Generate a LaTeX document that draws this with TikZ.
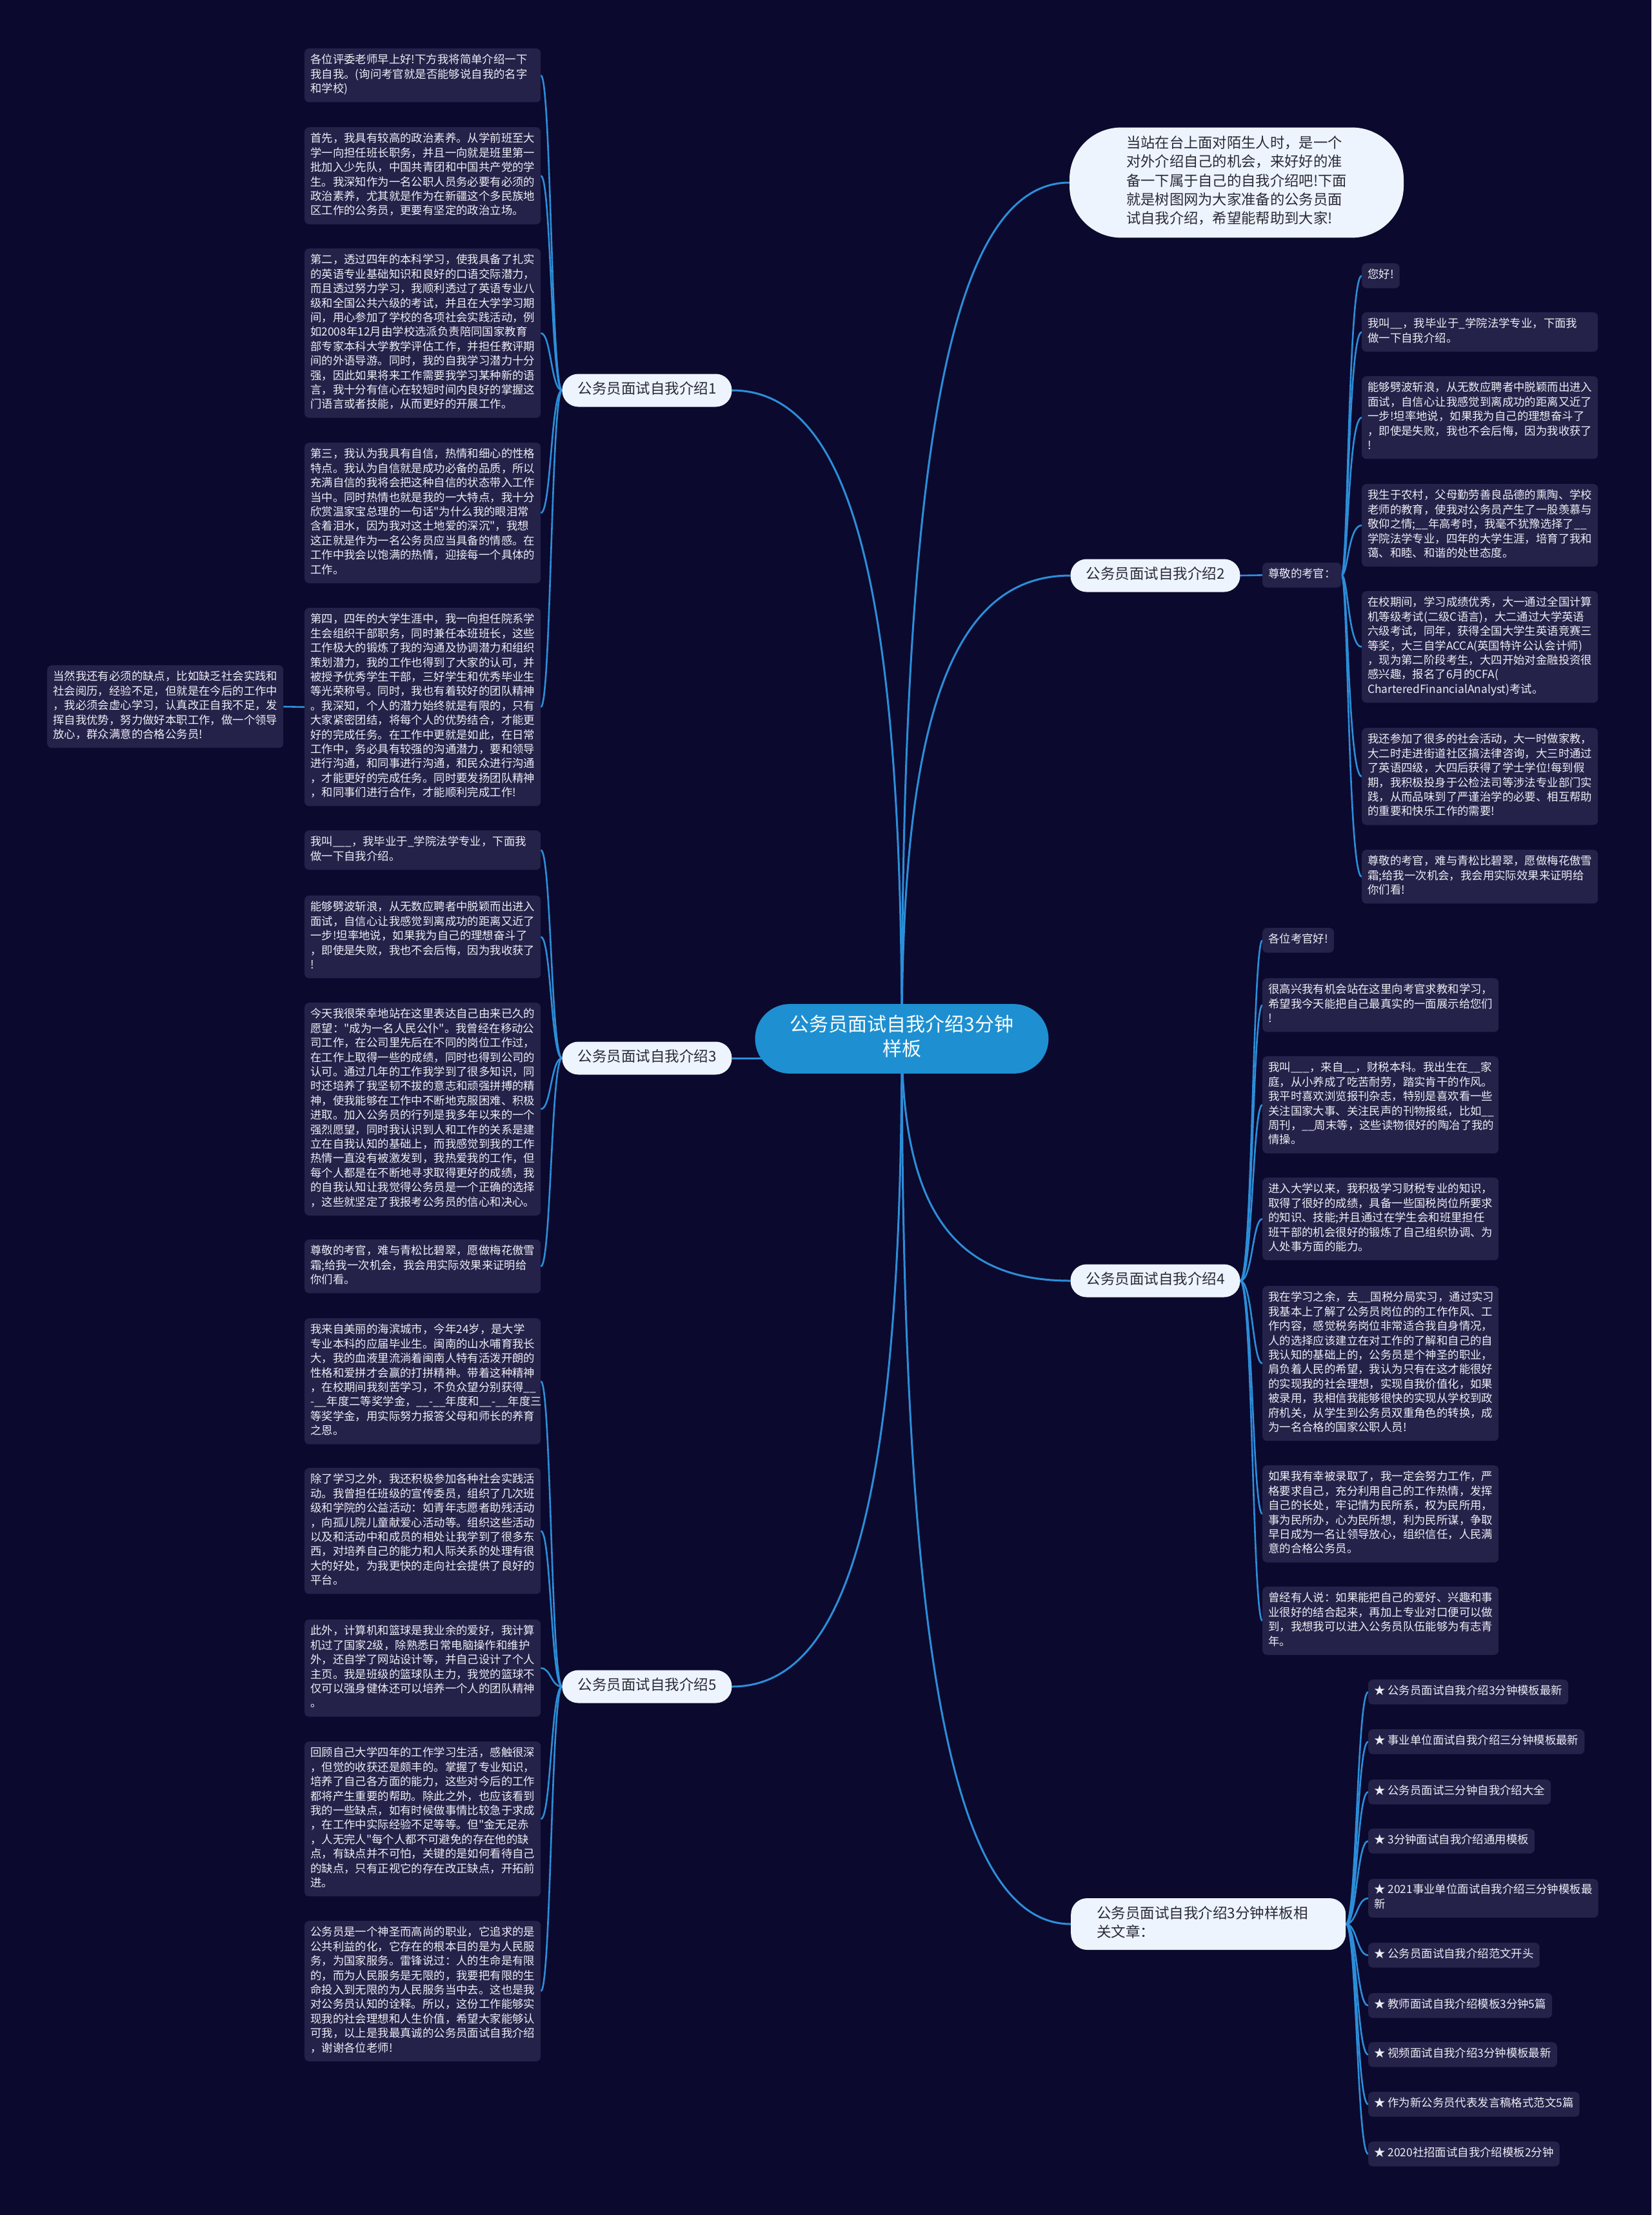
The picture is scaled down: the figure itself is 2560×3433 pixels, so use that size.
\documentclass[tikz,border=0pt]{standalone}
\usepackage{fontspec}
\newfontfamily\cjkf{Noto Sans CJK SC}[HyphenChar=None]
\usetikzlibrary{calc}
\definecolor{bgc}{HTML}{0B0A2E}
\definecolor{leafc}{HTML}{25224A}
\definecolor{leaft}{HTML}{EDEDF5}
\definecolor{linec}{HTML}{2C8ED8}
\definecolor{centc}{HTML}{1E8FD0}
\definecolor{pillc}{HTML}{EEF4FD}
\definecolor{pillt}{HTML}{2A2A35}
\pgfdeclarelayer{bg}
\pgfsetlayers{bg,main}
\exhyphenpenalty=10000
\tikzset{
 leaf/.style={fill=leafc, rounded corners=7pt, text=leaft, font=\cjkf\fontsize{17.4}{22.4}\selectfont, align=left, inner xsep=9pt, inner ysep=8pt, execute at begin node=\strut, execute at end node=\strut},
 wide/.style={leaf, text width=348pt},
 pill/.style={fill=pillc, text=pillt, rounded corners=25pt, font=\cjkf\fontsize{22.5}{29}\selectfont, inner xsep=24pt, inner ysep=11pt, align=left, execute at begin node=\strut, execute at end node=\strut},
 conn/.style={draw=linec, line width=2.6pt},
 trunk/.style={draw=linec, line width=3pt},
 sp/.style={to path={.. controls ($(\tikztostart)+(#1,0)$) and ($(\tikztostart |- \tikztotarget)+(#1,0)$) .. (\tikztotarget)}},
}
\begin{document}
\begin{tikzpicture}[x=1pt,y=-1pt]
\useasboundingbox (0,0) rectangle (2560,3433);

% ---------- center and branches ----------
\node[fill=centc, text=white, rounded corners=54pt, font=\cjkf\fontsize{30}{38}\selectfont, align=center, minimum width=455pt, inner ysep=16.5pt, execute at begin node=\strut, execute at end node=\strut] (c) at (1398,1610) {公务员面试自我介绍3分钟\\样板};

\node[fill=pillc, text=pillt, rounded corners=80pt, font=\cjkf\fontsize{22.3}{29.3}\selectfont, align=left, minimum width=518pt, inner ysep=13pt, execute at begin node=\strut, execute at end node=\strut] (intro) at (1917,283) {当站在台上面对陌生人时，是一个\\对外介绍自己的机会，来好好的准\\备一下属于自己的自我介绍吧!下面\\就是树图网为大家准备的公务员面\\试自我介绍，希望能帮助到大家!};

\node[pill] (b1) at (1003,605) {公务员面试自我介绍1};
\node[pill] (b2) at (1791,892) {公务员面试自我介绍2};
\node[pill] (b3) at (1003,1640) {公务员面试自我介绍3};
\node[pill] (b4) at (1791,1985) {公务员面试自我介绍4};
\node[pill] (b5) at (1003,2614) {公务员面试自我介绍5};
\node[pill, text width=346pt, inner xsep=40pt, anchor=west] (b6) at (1660,2982) {公务员面试自我介绍3分钟样板相\\关文章：};

% ---------- branch 1 ----------
\node[wide, anchor=north west] (l11) at (472,75) {各位评委老师早上好!下方我将简单介绍一下\\我自我。(询问考官就是否能够说自我的名字\\和学校)};
\node[wide, anchor=north west] (l12) at (472,197) {首先，我具有较高的政治素养。从学前班至大\\学一向担任班长职务，并且一向就是班里第一\\批加入少先队，中国共青团和中国共产党的学\\生。我深知作为一名公职人员务必要有必须的\\政治素养，尤其就是作为在新疆这个多民族地\\区工作的公务员，更要有坚定的政治立场。};
\node[wide, anchor=north west] (l13) at (472,385) {第二，透过四年的本科学习，使我具备了扎实\\的英语专业基础知识和良好的口语交际潜力，\\而且透过努力学习，我顺利透过了英语专业八\\级和全国公共六级的考试，并且在大学学习期\\间，用心参加了学校的各项社会实践活动，例\\如2008年12月由学校选派负责陪同国家教育\\部专家本科大学教学评估工作，并担任教评期\\间的外语导游。同时，我的自我学习潜力十分\\强，因此如果将来工作需要我学习某种新的语\\言，我十分有信心在较短时间内良好的掌握这\\门语言或者技能，从而更好的开展工作。};
\node[wide, anchor=north west] (l14) at (472,686) {第三，我认为我具有自信，热情和细心的性格\\特点。我认为自信就是成功必备的品质，所以\\充满自信的我将会把这种自信的状态带入工作\\当中。同时热情也就是我的一大特点，我十分\\欣赏温家宝总理的一句话"为什么我的眼泪常\\含着泪水，因为我对这土地爱的深沉"，我想\\这正就是作为一名公务员应当具备的情感。在\\工作中我会以饱满的热情，迎接每一个具体的\\工作。};
\node[wide, anchor=north west] (l15) at (472,942) {第四，四年的大学生涯中，我一向担任院系学\\生会组织干部职务，同时兼任本班班长，这些\\工作极大的锻炼了我的沟通及协调潜力和组织\\策划潜力，我的工作也得到了大家的认可，并\\被授予优秀学生干部，三好学生和优秀毕业生\\等光荣称号。同时，我也有着较好的团队精神\\。我深知，个人的潜力始终就是有限的，只有\\大家紧密团结，将每个人的优势结合，才能更\\好的完成任务。在工作中更就是如此，在日常\\工作中，务必具有较强的沟通潜力，要和领导\\进行沟通，和同事进行沟通，和民众进行沟通\\，才能更好的完成任务。同时要发扬团队精神\\，和同事们进行合作，才能顺利完成工作!};
\node[wide, anchor=north west] (far) at (73,1031) {当然我还有必须的缺点，比如缺乏社会实践和\\社会阅历，经验不足，但就是在今后的工作中\\，我必须会虚心学习，认真改正自我不足，发\\挥自我优势，努力做好本职工作，做一个领导\\放心，群众满意的合格公务员!};

% ---------- branch 3 ----------
\node[wide, anchor=north west] (l31) at (472,1287) {我叫\_\_\_，我毕业于\_学院法学专业，下面我\\做一下自我介绍。};
\node[wide, anchor=north west] (l32) at (472,1388) {能够劈波斩浪，从无数应聘者中脱颖而出进入\\面试，自信心让我感觉到离成功的距离又近了\\一步!坦率地说，如果我为自己的理想奋斗了\\，即使是失败，我也不会后悔，因为我收获了\\!};
\node[wide, anchor=north west] (l33) at (472,1554) {今天我很荣幸地站在这里表达自己由来已久的\\愿望："成为一名人民公仆"。我曾经在移动公\\司工作，在公司里先后在不同的岗位工作过，\\在工作上取得一些的成绩，同时也得到公司的\\认可。通过几年的工作我学到了很多知识，同\\时还培养了我坚韧不拔的意志和顽强拼搏的精\\神，使我能够在工作中不断地克服困难、积极\\进取。加入公务员的行列是我多年以来的一个\\强烈愿望，同时我认识到人和工作的关系是建\\立在自我认知的基础上，而我感觉到我的工作\\热情一直没有被激发到，我热爱我的工作，但\\每个人都是在不断地寻求取得更好的成绩，我\\的自我认知让我觉得公务员是一个正确的选择\\，这些就坚定了我报考公务员的信心和决心。};
\node[wide, anchor=north west] (l34) at (472,1921) {尊敬的考官，难与青松比碧翠，愿做梅花傲雪\\霜;给我一次机会，我会用实际效果来证明给\\你们看。};

% ---------- branch 5 ----------
\node[wide, anchor=north west] (l51) at (472,2043) {我来自美丽的海滨城市，今年24岁，是大学\\专业本科的应届毕业生。闽南的山水哺育我长\\大，我的血液里流淌着闽南人特有活泼开朗的\\性格和爱拼才会赢的打拼精神。带着这种精神\\，在校期间我刻苦学习，不负众望分别获得\_\_\\\mbox{-\_\_年度二等奖学金，\_\_-\_\_年度和\_\_-\_\_年度三}\\等奖学金，用实际努力报答父母和师长的养育\\之恩。};
\node[wide, anchor=north west] (l52) at (472,2275) {除了学习之外，我还积极参加各种社会实践活\\动。我曾担任班级的宣传委员，组织了几次班\\级和学院的公益活动：如青年志愿者助残活动\\，向孤儿院儿童献爱心活动等。组织这些活动\\以及和活动中和成员的相处让我学到了很多东\\西，对培养自己的能力和人际关系的处理有很\\大的好处，为我更快的走向社会提供了良好的\\平台。};
\node[wide, anchor=north west] (l53) at (472,2510) {此外，计算机和篮球是我业余的爱好，我计算\\机过了国家2级，除熟悉日常电脑操作和维护\\外，还自学了网站设计等，并自己设计了个人\\主页。我是班级的篮球队主力，我觉的篮球不\\仅可以强身健体还可以培养一个人的团队精神\\。};
\node[wide, anchor=north west] (l54) at (472,2699) {回顾自己大学四年的工作学习生活，感触很深\\，但觉的收获还是颇丰的。掌握了专业知识，\\培养了自己各方面的能力，这些对今后的工作\\都将产生重要的帮助。除此之外，也应该看到\\我的一些缺点，如有时候做事情比较急于求成\\，在工作中实际经验不足等等。但"金无足赤\\，人无完人"每个人都不可避免的存在他的缺\\点，有缺点并不可怕，关键的是如何看待自己\\的缺点，只有正视它的存在改正缺点，开拓前\\进。};
\node[wide, anchor=north west] (l55) at (472,2977) {公务员是一个神圣而高尚的职业，它追求的是\\公共利益的化，它存在的根本目的是为人民服\\务，为国家服务。雷锋说过：人的生命是有限\\的，而为人民服务是无限的，我要把有限的生\\命投入到无限的为人民服务当中去。这也是我\\对公务员认知的诠释。所以，这份工作能够实\\现我的社会理想和人生价值，希望大家能够认\\可我，以上是我最真诚的公务员面试自我介绍\\，谢谢各位老师!};

% ---------- branch 2 ----------
\node[leaf, anchor=north west] (z) at (1957,872) {尊敬的考官：};
\node[leaf, anchor=north west] (l21) at (2111,408) {您好!};
\node[wide, anchor=north west] (l22) at (2111,484) {我叫\_\_，我毕业于\_学院法学专业，下面我\\做一下自我介绍。};
\node[wide, anchor=north west] (l23) at (2111,583) {能够劈波斩浪，从无数应聘者中脱颖而出进入\\面试，自信心让我感觉到离成功的距离又近了\\一步!坦率地说，如果我为自己的理想奋斗了\\，即使是失败，我也不会后悔，因为我收获了\\!};
\node[wide, anchor=north west] (l24) at (2111,750) {我生于农村，父母勤劳善良品德的熏陶、学校\\老师的教育，使我对公务员产生了一股羡慕与\\敬仰之情;\_\_年高考时，我毫不犹豫选择了\_\_\\学院法学专业，四年的大学生涯，培育了我和\\蔼、和睦、和谐的处世态度。};
\node[wide, anchor=north west] (l25) at (2111,916) {在校期间，学习成绩优秀，大一通过全国计算\\机等级考试(二级C语言)，大二通过大学英语\\六级考试，同年，获得全国大学生英语竞赛三\\等奖，大三自学ACCA(英国特许公认会计师)\\，现为第二阶段考生，大四开始对金融投资很\\感兴趣，报名了6月的CFA(\\CharteredFinancialAnalyst)考试。};
\node[wide, anchor=north west] (l26) at (2111,1128) {我还参加了很多的社会活动，大一时做家教，\\大二时走进街道社区搞法律咨询，大三时通过\\了英语四级，大四后获得了学士学位!每到假\\期，我积极投身于公检法司等涉法专业部门实\\践，从而品味到了严谨治学的必要、相互帮助\\的重要和快乐工作的需要!};
\node[wide, anchor=north west] (l27) at (2111,1317) {尊敬的考官，难与青松比碧翠，愿做梅花傲雪\\霜;给我一次机会，我会用实际效果来证明给\\你们看!};

% ---------- branch 4 ----------
\node[leaf, anchor=north west] (l41) at (1957,1438) {各位考官好!};
\node[wide, anchor=north west] (l42) at (1957,1516) {很高兴我有机会站在这里向考官求教和学习，\\希望我今天能把自己最真实的一面展示给您们\\!};
\node[wide, anchor=north west] (l43) at (1957,1637) {我叫\_\_\_，来自\_\_，财税本科。我出生在\_\_家\\庭，从小养成了吃苦耐劳，踏实肯干的作风。\\我平时喜欢浏览报刊杂志，特别是喜欢看一些\\关注国家大事、关注民声的刊物报纸，比如\_\_\\周刊，\_\_周末等，这些读物很好的陶冶了我的\\情操。};
\node[wide, anchor=north west] (l44) at (1957,1825) {进入大学以来，我积极学习财税专业的知识，\\取得了很好的成绩，具备一些国税岗位所要求\\的知识、技能;并且通过在学生会和班里担任\\班干部的机会很好的锻炼了自己组织协调、为\\人处事方面的能力。};
\node[wide, anchor=north west] (l45) at (1957,1993) {我在学习之余，去\_\_国税分局实习，通过实习\\我基本上了解了公务员岗位的的工作作风、工\\作内容，感觉税务岗位非常适合我自身情况，\\人的选择应该建立在对工作的了解和自己的自\\我认知的基础上的，公务员是个神圣的职业，\\肩负着人民的希望，我认为只有在这才能很好\\的实现我的社会理想，实现自我价值化，如果\\被录用，我相信我能够很快的实现从学校到政\\府机关，从学生到公务员双重角色的转换，成\\为一名合格的国家公职人员!};
\node[wide, anchor=north west] (l46) at (1957,2271) {如果我有幸被录取了，我一定会努力工作，严\\格要求自己，充分利用自己的工作热情，发挥\\自己的长处，牢记情为民所系，权为民所用，\\事为民所办，心为民所想，利为民所谋，争取\\早日成为一名让领导放心，组织信任，人民满\\意的合格公务员。};
\node[wide, anchor=north west] (l47) at (1957,2459) {曾经有人说：如果能把自己的爱好、兴趣和事\\业很好的结合起来，再加上专业对口便可以做\\到，我想我可以进入公务员队伍能够为有志青\\年。};

% ---------- branch 6 ----------
\node[leaf, anchor=north west] (r1) at (2121,2603) {★ 公务员面试自我介绍3分钟模板最新};
\node[leaf, anchor=north west] (r2) at (2121,2680) {★ 事业单位面试自我介绍三分钟模板最新};
\node[leaf, anchor=north west] (r3) at (2121,2758) {★ 公务员面试三分钟自我介绍大全};
\node[leaf, anchor=north west] (r4) at (2121,2834) {★ 3分钟面试自我介绍通用模板};
\node[leaf, anchor=north west] (r5) at (2121,2912) {★ 2021事业单位面试自我介绍三分钟模板最\\新};
\node[leaf, anchor=north west] (r6) at (2121,3011) {★ 公务员面试自我介绍范文开头};
\node[leaf, anchor=north west] (r7) at (2121,3089) {★ 教师面试自我介绍模板3分钟5篇};
\node[leaf, anchor=north west] (r8) at (2121,3165) {★ 视频面试自我介绍3分钟模板最新};
\node[leaf, anchor=north west] (r9) at (2121,3242) {★ 作为新公务员代表发言稿格式范文5篇};
\node[leaf, anchor=north west] (r10) at (2121,3319) {★ 2020社招面试自我介绍模板2分钟};

% ---------- connectors ----------
\begin{pgfonlayer}{bg}
\fill[bgc] (0,0) rectangle (2560,3433);
\draw[trunk] (c.center) .. controls (1398,681) and (1476,283) .. (intro.west);
\draw[trunk] (c.center) .. controls (1398,1107) and (1477,892) .. (b2.west);
\draw[trunk] (c.center) .. controls (1398,907) and (1319,605) .. (b1.east);
\draw[trunk] (b3.east) -- (b3.east -| c.center);
\draw[trunk] (c.center) .. controls (1398,1872) and (1477,1985) .. (b4.west);
\draw[trunk] (c.center) .. controls (1398,2313) and (1319,2614) .. (b5.east);
\draw[trunk] (c.center) .. controls (1398,2570) and (1477,2982) .. (b6.west);

\foreach \n in {l11,l12,l13,l14,l15} \draw[conn] (b1.west) to[sp=-17] (\n.east);
\draw[conn] (l15.west) -- (far.east);
\foreach \n in {l31,l32,l33,l34} \draw[conn] (b3.west) to[sp=-17] (\n.east);
\foreach \n in {l51,l52,l53,l54,l55} \draw[conn] (b5.west) to[sp=-17] (\n.east);
\draw[conn] (b2.east) -- (z.west);
\foreach \n in {l21,l22,l23,l24,l25,l26,l27} \draw[conn] (z.east) to[sp=10] (\n.west);
\foreach \n in {l41,l42,l43,l44,l45,l46,l47} \draw[conn] (b4.east) to[sp=19] (\n.west);
\foreach \n in {r1,r2,r3,r4,r5,r6,r7,r8,r9,r10} \draw[conn] (b6.east) to[sp=17] (\n.west);
\end{pgfonlayer}
\end{tikzpicture}
\end{document}
